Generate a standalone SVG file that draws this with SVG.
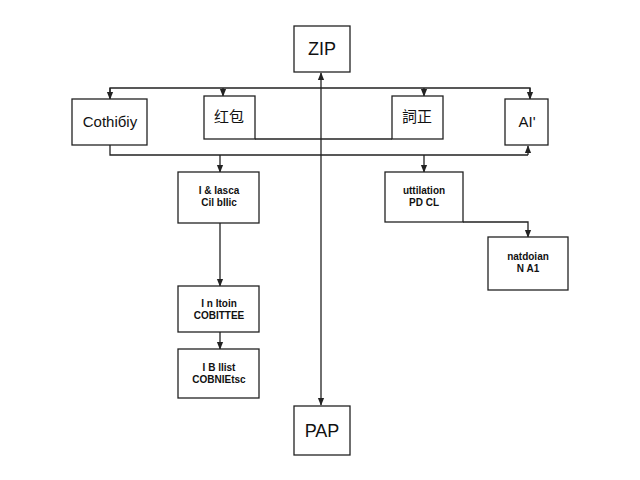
<svg xmlns="http://www.w3.org/2000/svg" width="640" height="480" viewBox="0 0 640 480">
<style>
.box{fill:#fff;stroke:#222;stroke-width:1.3}
.ln{fill:none;stroke:#222;stroke-width:1.3}
.big{font-family:"Liberation Sans","Noto Sans CJK SC",sans-serif;font-size:18px;fill:#111;text-anchor:middle}
.mid{font-family:"Liberation Sans","Noto Sans CJK SC",sans-serif;font-size:15px;fill:#111;text-anchor:middle}
.sm{font-family:"Liberation Sans",sans-serif;font-size:10px;font-weight:bold;fill:#111;text-anchor:middle}
</style>
<defs>
<marker id="a" viewBox="0 0 10 10" refX="9" refY="5" markerWidth="6" markerHeight="6" orient="auto-start-reverse">
<path d="M0,1 L10,5 L0,9 z" fill="#222"/>
</marker>
</defs>
<rect width="640" height="480" fill="#fff"/>
<g id="connectors">
<line class="ln" x1="321" y1="73" x2="321" y2="405" marker-start="url(#a)" marker-end="url(#a)"/>
<path class="ln" d="M110,98 V88 H530 V98"/>
<line class="ln" x1="223" y1="88" x2="223" y2="96" marker-end="url(#a)"/>
<line class="ln" x1="424" y1="88" x2="424" y2="96" marker-end="url(#a)"/>
<line class="ln" x1="110" y1="88" x2="110" y2="99" marker-end="url(#a)"/>
<line class="ln" x1="530" y1="88" x2="530" y2="99" marker-end="url(#a)"/>
<line class="ln" x1="255" y1="139" x2="392" y2="139"/>
<path class="ln" d="M110,145 V155 H528"/>
<line class="ln" x1="528" y1="155" x2="528" y2="146" marker-end="url(#a)"/>
<line class="ln" x1="220" y1="155" x2="220" y2="172" marker-end="url(#a)"/>
<line class="ln" x1="424" y1="155" x2="424" y2="172" marker-end="url(#a)"/>
<path class="ln" d="M463,222 H528 V237" marker-end="url(#a)"/>
<line class="ln" x1="220" y1="223" x2="220" y2="286" marker-end="url(#a)"/>
<line class="ln" x1="220" y1="332" x2="220" y2="349" marker-end="url(#a)"/>
</g>
<g id="zip"><rect class="box" x="294" y="26" width="56" height="46"/><text class="big" x="322" y="55">ZIP</text></g>
<g id="cothi"><rect class="box" x="72" y="99" width="75" height="46"/><text class="mid" x="110" y="127">Cothiбiy</text></g>
<g id="hongbao"><rect class="box" x="204" y="96" width="51" height="43"/><text class="mid" x="229" y="122">红包</text></g>
<g id="cizheng"><rect class="box" x="392" y="96" width="51" height="43"/><text class="mid" x="417" y="122">詞正</text></g>
<g id="ai"><rect class="box" x="505" y="99" width="43" height="46"/><text class="mid" x="527" y="127">AI'</text></g>
<g id="n1"><rect class="box" x="178" y="172" width="81" height="51"/><text class="sm" x="219" y="194">I &amp; Iasca</text><text class="sm" x="219" y="206">Cil  bIIic</text></g>
<g id="n2"><rect class="box" x="385" y="172" width="78" height="50"/><text class="sm" x="424" y="194">uttilation</text><text class="sm" x="424" y="206">PD  CL</text></g>
<g id="n3"><rect class="box" x="488" y="237" width="80" height="53"/><text class="sm" x="528" y="260">natdoian</text><text class="sm" x="528" y="272">N  A1</text></g>
<g id="n4"><rect class="box" x="178" y="286" width="81" height="46"/><text class="sm" x="219" y="307">I n Itoin</text><text class="sm" x="219" y="319">COBITTEE</text></g>
<g id="n5"><rect class="box" x="178" y="349" width="81" height="49"/><text class="sm" x="219" y="371">I B llist</text><text class="sm" x="219" y="383">COBNIEtsc</text></g>
<g id="pap"><rect class="box" x="294" y="406" width="56" height="49"/><text class="big" x="322" y="437">PAP</text></g>
</svg>
